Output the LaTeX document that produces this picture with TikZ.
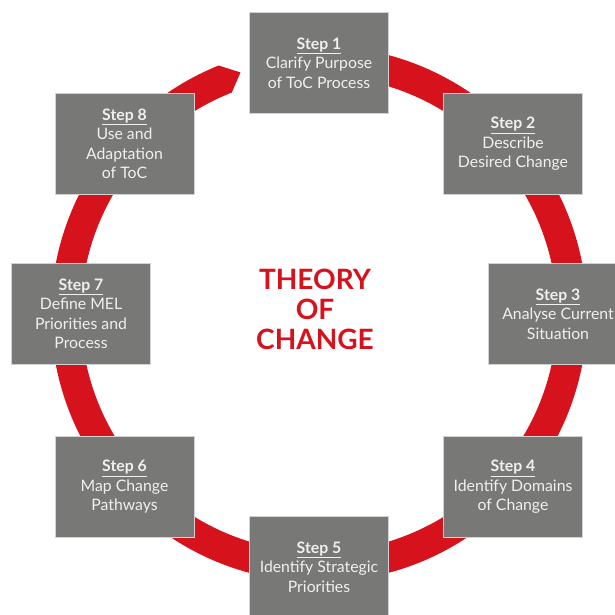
\documentclass[tikz,border=0pt]{standalone}
\usepackage{fontspec}
\setmainfont{Lato}
\usepackage{tikz}
\usetikzlibrary{calc}
\definecolor{tocred}{RGB}{214,18,28}
\definecolor{tocgrey}{RGB}{120,120,118}
\definecolor{tocedge}{RGB}{210,210,210}
\definecolor{tocfont}{RGB}{240,240,240}
\newcommand{\steplabel}[1]{\underline{\textbf{Step #1}}}

\begin{document}
\begin{tikzpicture}
[x=1pt,y=1pt,
stepbox/.style={draw=tocedge, line width=0.8pt, fill=tocgrey, text=tocfont,
  minimum width=139pt, minimum height=101pt, inner sep=0pt, align=center,
  font=\fontsize{15.8}{19.5}\selectfont},
ring/.style={fill=tocred},
title/.style={text=tocred, align=center, font=\fontsize{28}{30}\selectfont\bfseries}]
\useasboundingbox (0,0) rectangle (615,614);
\coordinate (c) at (319,300);

% the ring runs clockwise and ends in a point just before step 1
\fill[ring] ($(c)+(100:268pt)$) arc[start angle=100, end angle=-248, radius=268pt]
  -- ($(c)+(-252:254pt)$) -- ($(c)+(-248.5:238pt)$)
  arc[start angle=-248.5, end angle=100, radius=238pt] -- cycle;

\node[stepbox] (s1) at (319,551) {\steplabel{1}\\Clarify Purpose\\of ToC Process};
\node[stepbox] (s2) at (513,470) {\steplabel{2}\\Describe\\Desired Change};
\node[stepbox] (s3) at (558,300) {\steplabel{3}\\Analyse Current\\Situation};
\node[stepbox] (s4) at (513,127) {\steplabel{4}\\Identify Domains\\of Change};
\node[stepbox] (s5) at (319,47) {\steplabel{5}\\Identify Strategic\\Priorities};
\node[stepbox] (s6) at (124.5,127) {\steplabel{6}\\Map Change\\Pathways};
\node[stepbox] (s7) at (81,300) {\steplabel{7}\\Define MEL\\Priorities and\\Process};
\node[stepbox] (s8) at (124.5,470) {\steplabel{8}\\Use and\\Adaptation\\of ToC};

\node[title] (toc) at (315,305) {THEORY\\OF\\CHANGE};
\end{tikzpicture}
\end{document}
